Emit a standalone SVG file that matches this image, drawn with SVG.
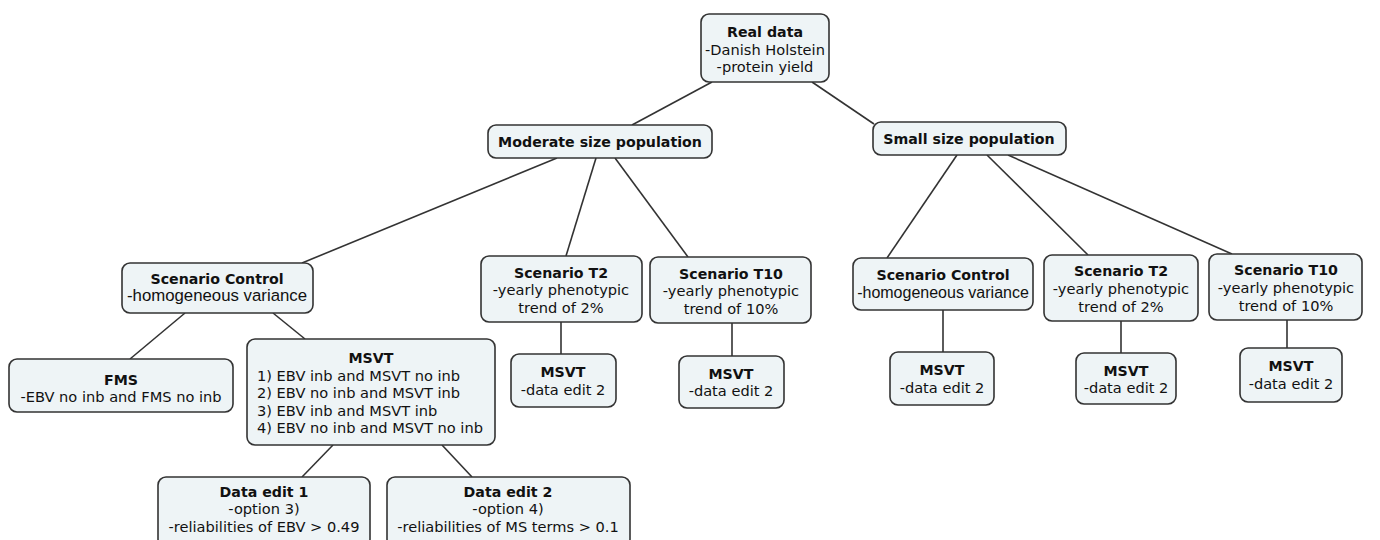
<svg xmlns="http://www.w3.org/2000/svg" width="1380" height="540" viewBox="0 0 1380 540">
<style>
.box{fill:#eef4f6;stroke:#333;stroke-width:1.6}
.t{font-family:"DejaVu Sans",Verdana,sans-serif;font-size:14.6px;fill:#111;text-anchor:middle}
.b{font-weight:bold;font-size:14.2px}
.a{font-family:"Liberation Sans",Arial,sans-serif;font-size:16.8px}
.a2{font-size:16px}
.l{text-anchor:start}
.c line{stroke:#333;stroke-width:1.6}
</style>
<rect width="1380" height="540" fill="#fff"/>
<g class="c" id="connectors">
<line x1="712" y1="82" x2="632" y2="125"/>
<line x1="812" y1="82" x2="874" y2="124"/>
<line x1="557" y1="158" x2="302" y2="263"/>
<line x1="596" y1="158" x2="566" y2="256"/>
<line x1="615" y1="158" x2="688" y2="257"/>
<line x1="185" y1="313" x2="130" y2="359"/>
<line x1="273" y1="313" x2="305" y2="339"/>
<line x1="333" y1="445" x2="302" y2="477"/>
<line x1="442" y1="445" x2="472" y2="477"/>
<line x1="561" y1="322" x2="561" y2="354"/>
<line x1="732" y1="323" x2="732" y2="356"/>
<line x1="957" y1="155" x2="887" y2="258"/>
<line x1="987" y1="155" x2="1088" y2="255"/>
<line x1="1008" y1="155" x2="1232" y2="254"/>
<line x1="943" y1="310" x2="943" y2="352"/>
<line x1="1121" y1="321" x2="1121" y2="353"/>
<line x1="1287" y1="320" x2="1287" y2="348"/>
</g>
<g id="real-data">
<rect class="box" x="701" y="14" width="128" height="68" rx="8"/>
<text class="t b" x="765" y="37">Real data</text>
<text class="t" x="765" y="55">-Danish Holstein</text>
<text class="t" x="765" y="72">-protein yield</text>
</g>
<g id="moderate">
<rect class="box" x="488" y="125" width="224" height="33" rx="8"/>
<text class="t b" x="600" y="147">Moderate size population</text>
</g>
<g id="small">
<rect class="box" x="873" y="122" width="193" height="33" rx="8"/>
<text class="t b" x="969" y="144">Small size population</text>
</g>
<g id="m-control">
<rect class="box" x="122" y="263" width="191" height="50" rx="8"/>
<text class="t b" x="217" y="284">Scenario Control</text>
<text class="t a" x="217" y="301">-homogeneous variance</text>
</g>
<g id="fms">
<rect class="box" x="9" y="359" width="224" height="53" rx="8"/>
<text class="t b" x="121" y="385">FMS</text>
<text class="t" x="121" y="402">-EBV no inb and FMS no inb</text>
</g>
<g id="m-msvt">
<rect class="box" x="247" y="339" width="248" height="106" rx="8"/>
<text class="t b" x="371" y="363">MSVT</text>
<text class="t l" x="257" y="381">1) EBV inb and MSVT no inb</text>
<text class="t l" x="257" y="398">2) EBV no inb and MSVT inb</text>
<text class="t l" x="257" y="416">3) EBV inb and MSVT inb</text>
<text class="t l" x="257" y="433">4) EBV no inb and MSVT no inb</text>
</g>
<g id="edit1">
<rect class="box" x="158" y="477" width="212" height="70" rx="8"/>
<text class="t b" x="264" y="497">Data edit 1</text>
<text class="t" x="264" y="514">-option 3)</text>
<text class="t" x="264" y="532">-reliabilities of EBV &gt; 0.49</text>
</g>
<g id="edit2">
<rect class="box" x="387" y="477" width="243" height="70" rx="8"/>
<text class="t b" x="508" y="497">Data edit 2</text>
<text class="t" x="508" y="514">-option 4)</text>
<text class="t" x="508" y="532">-reliabilities of MS terms &gt; 0.1</text>
</g>
<g id="m-t2">
<rect class="box" x="481" y="256" width="161" height="66" rx="8"/>
<text class="t b" x="561" y="278">Scenario T2</text>
<text class="t" x="561" y="295">-yearly phenotypic</text>
<text class="t" x="561" y="313">trend of 2%</text>
</g>
<g id="m-t10">
<rect class="box" x="650" y="257" width="161" height="66" rx="8"/>
<text class="t b" x="731" y="279">Scenario T10</text>
<text class="t" x="731" y="296">-yearly phenotypic</text>
<text class="t" x="731" y="314">trend of 10%</text>
</g>
<g id="m-t2-msvt">
<rect class="box" x="511" y="354" width="105" height="53" rx="8"/>
<text class="t b" x="563" y="377">MSVT</text>
<text class="t" x="563" y="395">-data edit 2</text>
</g>
<g id="m-t10-msvt">
<rect class="box" x="679" y="356" width="105" height="52" rx="8"/>
<text class="t b" x="731" y="379">MSVT</text>
<text class="t" x="731" y="396">-data edit 2</text>
</g>
<g id="s-control">
<rect class="box" x="853" y="258" width="180" height="52" rx="8"/>
<text class="t b" x="943" y="280">Scenario Control</text>
<text class="t a a2" x="943" y="298">-homogeneous variance</text>
</g>
<g id="s-t2">
<rect class="box" x="1044" y="255" width="154" height="66" rx="8"/>
<text class="t b" x="1121" y="276">Scenario T2</text>
<text class="t" x="1121" y="294">-yearly phenotypic</text>
<text class="t" x="1121" y="312">trend of 2%</text>
</g>
<g id="s-t10">
<rect class="box" x="1209" y="254" width="153" height="66" rx="8"/>
<text class="t b" x="1286" y="275">Scenario T10</text>
<text class="t" x="1286" y="293">-yearly phenotypic</text>
<text class="t" x="1286" y="311">trend of 10%</text>
</g>
<g id="s-control-msvt">
<rect class="box" x="890" y="352" width="104" height="53" rx="8"/>
<text class="t b" x="942" y="375">MSVT</text>
<text class="t" x="942" y="393">-data edit 2</text>
</g>
<g id="s-t2-msvt">
<rect class="box" x="1076" y="353" width="100" height="51" rx="8"/>
<text class="t b" x="1126" y="376">MSVT</text>
<text class="t" x="1126" y="393">-data edit 2</text>
</g>
<g id="s-t10-msvt">
<rect class="box" x="1240" y="348" width="102" height="54" rx="8"/>
<text class="t b" x="1291" y="371">MSVT</text>
<text class="t" x="1291" y="389">-data edit 2</text>
</g>
</svg>
